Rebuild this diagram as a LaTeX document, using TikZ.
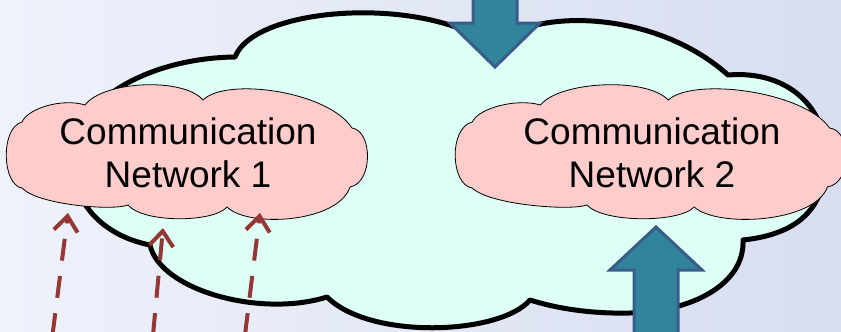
\documentclass[tikz,border=0pt]{standalone}
\usepackage{fontspec}
\setmainfont{Liberation Sans}
\usetikzlibrary{arrows.meta}
\definecolor{bgL}{RGB}{238,242,251}
\definecolor{bgR}{RGB}{216,221,240}
\definecolor{mint}{RGB}{221,255,245}
\definecolor{pinkfill}{RGB}{255,204,204}
\definecolor{arrowfill}{RGB}{49,132,155}
\definecolor{arrowline}{RGB}{56,93,138}
\definecolor{dashred}{RGB}{149,55,53}
\newcommand\netcloudpath{(-166,35)
  .. controls (-186,32) and (-188,-25) .. (-166,-31)
  .. controls (-160,-45) and (-125,-55) .. (-103,-48)
  .. controls (-85,-72) and (-5,-76) .. (15,-53)
  .. controls (38,-76) and (140,-62) .. (164,-25)
  .. controls (185,-22) and (185,30) .. (162,34)
  .. controls (150,70) and (60,75) .. (39,54)
  .. controls (25,70) and (-45,70) .. (-60,52)
  .. controls (-75,58) and (-150,52) .. (-166,35) -- cycle}
\begin{document}
\begin{tikzpicture}[x=1pt,y=-1pt,
  bigcloud/.style={draw=black, line width=5pt, fill=mint, line join=round},
  pinkcloud/.style={draw=black, line width=0.8pt, fill=pinkfill, line join=round},
  netlabel/.style={align=center, font=\fontsize{37}{43}\selectfont, inner sep=0pt},
  blockarrow/.style={fill=arrowfill, draw=arrowline, line width=3pt, line join=miter},
  dasharrow/.style={draw=dashred, line width=4pt, dash pattern=on 22pt off 15.5pt, -{Straight Barb[length=15pt,width=24pt]}}
]
\useasboundingbox (0,0) rectangle (841,332);
\fill[left color=bgL, right color=bgR] (0,0) rectangle (841,332);
% big cloud
\draw[bigcloud]
  (150,245) .. controls (100,235) and (72,200) .. (72,160)
  .. controls (72,100) and (150,58) .. (235,57)
  .. controls (255,5) and (430,-5) .. (495,48)
  .. controls (520,10) and (650,5) .. (728,75)
  .. controls (790,70) and (828,110) .. (826,160)
  .. controls (825,215) and (790,235) .. (743,240)
  .. controls (745,285) and (690,312) .. (630,313)
  .. controls (590,314) and (555,308) .. (530,300)
  .. controls (500,335) and (370,340) .. (327,297)
  .. controls (260,318) and (160,290) .. (150,245)
  -- cycle;
% top arrow
\draw[blockarrow] (473,-5) -- (473,23) -- (450,23) -- (495,67) -- (540,23) -- (517,23) -- (517,-5) -- cycle;
% pink clouds
\draw[pinkcloud, shift={(188,153)}] \netcloudpath;
\draw[pinkcloud, shift={(652,153)}, xscale=1.083] \netcloudpath;
\node[netlabel] (t1) at (188,153) {Communication\\Network 1};
\node[netlabel] (t2) at (652,153) {Communication\\Network 2};
% dashed arrows
\coordinate (b1) at (52.5,335); \coordinate (h1) at (68,213);
\coordinate (b2) at (153,335); \coordinate (h2) at (163,228);
\coordinate (b3) at (245,335); \coordinate (h3) at (260,213);
\draw[dasharrow] (b1) -- (h1);
\draw[dasharrow] (b2) -- (h2);
\draw[dasharrow] (b3) -- (h3);
% bottom arrow
\draw[blockarrow] (634,340) -- (634,270) -- (610,270) -- (656,227) -- (702,270) -- (678,270) -- (678,340) -- cycle;
\end{tikzpicture}
\end{document}
